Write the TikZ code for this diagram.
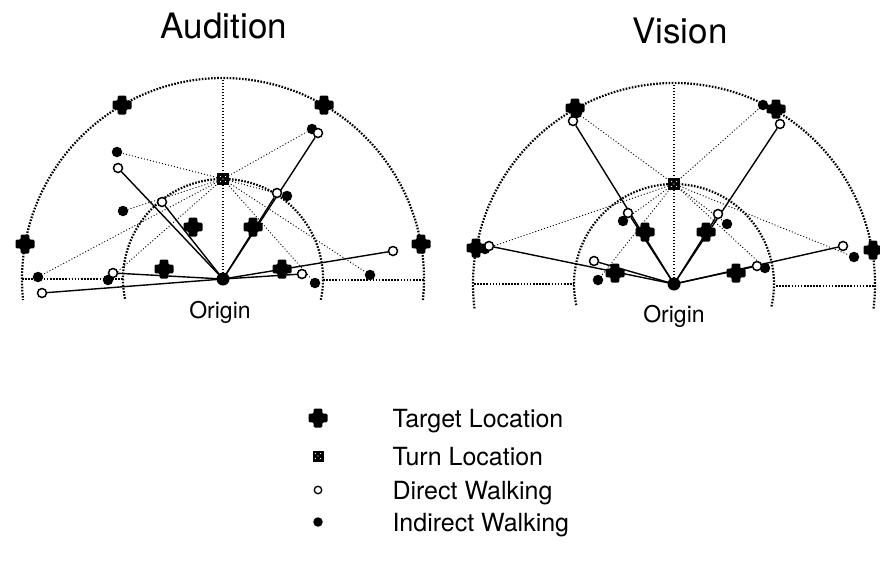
\documentclass[tikz,border=0pt]{standalone}
\usepackage{fontspec}
\setmainfont{TeX Gyre Heros}
\pgfdeclarelayer{bg}
\pgfsetlayers{bg,main}
\tikzset{
  bigdot/.style={line width=2.2pt, dash pattern=on 1.6pt off 1.5pt},
  thindot/.style={line width=0.9pt, dash pattern=on 1pt off 2.1pt},
  walk/.style={line width=1.4pt},
  dmark/.style={circle, draw, fill=white, line width=1.5pt, inner sep=0pt, minimum size=9pt},
  imark/.style={circle, fill=black, inner sep=0pt, minimum size=10.5pt},
  omark/.style={circle, fill=black, inner sep=0pt, minimum size=13pt},
  turnmark/.style={rectangle, fill=black, inner sep=0pt, minimum size=12pt,
    path picture={\foreach \a/\b in {-2.5/-2.5,2.5/-2.5,0/0,-2.5/2.5,2.5/2.5}
      \fill[white] ([shift={(\a,\b)}]path picture bounding box.center) circle (0.7);}},
  tgtmark/.style={rectangle, inner sep=0pt, minimum size=19pt,
    path picture={\fill[rounded corners=1.2pt] ([shift={(-4.3,-9.5)}]path picture bounding box.center)
      -- ++(8.6,0) -- ++(0,5.2) -- ++(5.2,0) -- ++(0,8.6) -- ++(-5.2,0) -- ++(0,5.2) -- ++(-8.6,0)
      -- ++(0,-5.2) -- ++(-5.2,0) -- ++(0,-8.6) -- ++(5.2,0) -- cycle;}},
  title/.style={font=\fontsize{35}{40}\selectfont, anchor=base},
  lbl/.style={font=\fontsize{23}{26}\selectfont, anchor=base},
  leg/.style={font=\fontsize{25}{28}\selectfont, anchor=base west}
}
\begin{document}
\begin{tikzpicture}[x=1pt,y=-1pt]
\useasboundingbox (0,0) rectangle (880,562);

% ---------------- Audition ----------------
\node[title] (A-title) at (224,38) {Audition};
\node[lbl] (A-lbl) at (220,318) {Origin};
\coordinate (A-top) at (223,78);
\coordinate (A-hl1) at (22,279); \coordinate (A-hl2) at (123,279);
\coordinate (A-hr1) at (323,280); \coordinate (A-hr2) at (424,280);

\foreach \n/\x/\y in {1/117/152,2/123/211,3/38/277,4/108/280,5/312/129,6/287/196,7/315/283,8/370/275}
  \node[imark] (A-i\n) at (\x,\y) {};
\foreach \n/\x/\y in {1/118/168,2/162/202,3/42/293,4/113/273,5/318/133,6/277/193,7/302/274,8/393/251}
  \node[dmark] (A-d\n) at (\x,\y) {};
\foreach \n/\x/\y in {1/25/244,2/122/105,3/324/105,4/421/244,5/164/269,6/193/227,7/253/227,8/282/269}
  \node[tgtmark] (A-T\n) at (\x,\y) {};
\node[turnmark] (A-t) at (223,179) {};
\node[omark] (A-o) at (223,279) {};

\begin{pgfonlayer}{bg}
  \draw[bigdot] (223,279) ++(6:201) arc[start angle=6, end angle=-186, radius=201];
  \draw[bigdot] (223,279) ++(12:100) arc[start angle=12, end angle=-192, radius=100];
  \draw[bigdot] (A-hl1) -- (A-hl2);
  \draw[bigdot] (A-hr1) -- (A-hr2);
  \draw[thindot, line width=1.3pt] (A-o.center) -- (A-top);
  \foreach \n in {1,...,8} \draw[thindot] (A-t.center) -- (A-i\n);
  \foreach \n in {1,...,8} \draw[walk] (A-o.center) -- (A-d\n);
\end{pgfonlayer}

% ---------------- Vision ----------------
\node[title] (V-title) at (680,43) {Vision};
\node[lbl] (V-lbl) at (674,322) {Origin};
\coordinate (V-top) at (674,83);
\coordinate (V-hl1) at (474,284); \coordinate (V-hl2) at (574,284);
\coordinate (V-hr1) at (776,286); \coordinate (V-hr2) at (876,286);

\foreach \n/\x/\y in {1/577/113,2/623/221,3/485/249,4/598/280,5/763/105,6/727/224,7/765/268,8/854/257}
  \node[imark] (V-i\n) at (\x,\y) {};
\foreach \n/\x/\y in {1/573/121,2/628/213,3/489/246,4/594/261,5/780/124,6/718/214,7/757/266,8/843/246}
  \node[dmark] (V-d\n) at (\x,\y) {};
\foreach \n/\x/\y in {1/476/248,2/575/108,3/776/109,4/873/250,5/645/232,6/706/232,7/615/273,8/736/273}
  \node[tgtmark] (V-T\n) at (\x,\y) {};
\node[turnmark] (V-t) at (674,184) {};
\node[omark] (V-o) at (674,284) {};

\begin{pgfonlayer}{bg}
  \draw[bigdot] (674,284) ++(7:201) arc[start angle=7, end angle=-187, radius=201];
  \draw[bigdot] (674,284) ++(13:100) arc[start angle=13, end angle=-193, radius=100];
  \draw[bigdot] (V-hl1) -- (V-hl2);
  \draw[bigdot] (V-hr1) -- (V-hr2);
  \draw[thindot, line width=1.3pt] (V-o.center) -- (V-top);
  \foreach \n in {1,...,8} \draw[thindot] (V-t.center) -- (V-i\n);
  \foreach \n in {1,...,8} \draw[walk] (V-o.center) -- (V-d\n);
\end{pgfonlayer}

% ---------------- Legend ----------------
\node[tgtmark] (L-tgt) at (318,418) {};
\node[turnmark, minimum size=11pt] (L-turn) at (318,456) {};
\node[dmark, minimum size=7.5pt, line width=1.3pt] (L-d) at (318,490) {};
\node[imark, minimum size=9.5pt] (L-i) at (318,522) {};
\node[leg] (L-tgt-t) at (389,427) {Target Location};
\node[leg] (L-turn-t) at (389,465) {Turn Location};
\node[leg] (L-d-t) at (389,499) {Direct Walking};
\node[leg] (L-i-t) at (389,531) {Indirect Walking};
\end{tikzpicture}
\end{document}
